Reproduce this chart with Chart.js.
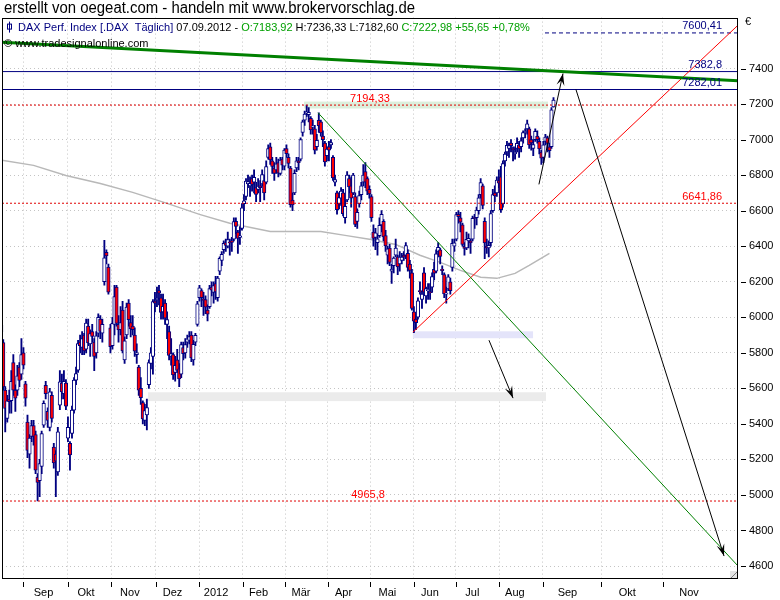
<!DOCTYPE html>
<html>
<head>
<meta charset="utf-8">
<script src="https://cdn.jsdelivr.net/npm/chart.js@4.4.0/dist/chart.umd.min.js"></script>
<style>
html, body { margin: 0; padding: 0; background: #fff; }
#wrap { width: 780px; height: 600px; }
</style>
</head>
<body>
<div id="wrap"><canvas id="c" width="780" height="600"></canvas></div>
<script>
// --- DAX daily bars, 17.08.2011 .. 07.09.2012 (index = trading day) ---
const opens = [
  5918,5858,5590,5430,5540,5530,5745,5590,5590,5720,5680,
  5800,5625,5410,5230,5330,5390,5340,5100,5080,5160,5393,5617,5470,5380,5560,5270,5230,5130,5505,5630,5570,5630,
  5320,5290,5346,5477,5646,5702,5860,5830,5900,5820,5950,5850,5920,5860,5800,5910,5990,5910,6200,6365,6283,
  5940,5840,5960,6170,5960,5930,6040,5760,5900,6080,5970,5950,5900,5790,5720,5600,5520,5420,5450,5620,5740,5780,
  6090,6100,6150,6110,6030,6080,5960,5920,5780,5790,5690,5760,5710,5680,5830,5800,5860,5870,5900,5760,5860,
  5960,6110,6150,6100,6100,6040,6060,6170,6140,6190,6110,6260,6320,6380,6420,6400,6420,6430,6440,6540,6480,6450,
  6500,6640,6680,6750,6740,6780,6760,6730,6720,6740,6750,6770,6760,6900,6960,6880,6840,6830,6870,6810,6890,
  6850,6950,6900,6840,6660,6700,6840,6880,6890,7040,7110,7150,7140,7120,7070,7060,6960,7108,7100,7020,6980,6910,
  6960,6970,6900,6760,6700,6640,6670,6700,6560,6660,6780,6740,6700,6680,6540,6640,6690,6760,6820,
  6780,6720,6680,6480,6450,6420,6460,6520,6540,6460,6350,6390,6260,6290,6350,6340,6300,6320,6350,6350,6360,6300,
  6250,6030,5990,6000,6150,6100,6250,6120,6150,6140,6170,6270,6260,6370,6380,6270,6240,6130,6160,6200,6280,
  6400,6440,6580,6560,6520,6400,6390,6430,6430,6440,6560,6560,6600,6690,6740,6540,6400,6390,6420,6600,6700,6700,
  6770,6790,6640,6880,6930,6950,6980,6950,6920,6950,6970,6960,7010,7040,7060,7060,7000,6950,7000,7020,6990,6930,6900,
  6990,7010,6960,6960,7184
];
const highs = [
  6021,5875,5610,5560,5590,5700,5790,5620,5730,5745,5880,
  5830,5640,5450,5340,5420,5420,5360,5120,5200,5360,5530,5640,5490,5600,5580,5290,5250,5380,5700,5680,5700,5650,
  5440,5300,5500,5660,5720,5870,5900,5920,5910,5990,5990,5930,5960,5880,5920,6020,6010,5990,6433,6380,6300,
  5960,6000,6180,6180,6010,6060,6090,5890,6080,6100,6010,6010,5940,5850,5730,5660,5530,5510,5540,5760,5830,6100,
  6140,6170,6180,6130,6130,6100,6030,5950,5880,5800,5780,5820,5740,5860,5860,5880,5900,5920,5920,5870,5910,
  6090,6180,6160,6140,6120,6070,6180,6200,6200,6230,6230,6340,6370,6430,6440,6480,6440,6450,6560,6560,6490,6510,
  6640,6690,6780,6800,6790,6800,6830,6760,6780,6770,6830,6800,6880,6970,6980,6900,6870,6900,6890,6900,6900,
  6950,6970,6920,6850,6700,6830,6900,6900,7010,7110,7160,7194,7180,7130,7110,7080,7030,7150,7110,7050,6990,6960,
  6990,7000,6910,6800,6710,6700,6730,6720,6660,6820,6800,6790,6810,6700,6610,6710,6760,6860,6870,
  6790,6740,6690,6520,6500,6470,6560,6600,6550,6490,6400,6410,6300,6340,6440,6350,6370,6360,6370,6420,6380,6320,
  6270,6060,6000,6110,6200,6140,6280,6170,6190,6190,6250,6310,6380,6420,6390,6290,6250,6170,6240,6220,6440,
  6440,6590,6600,6590,6530,6420,6480,6470,6440,6570,6580,6620,6690,6780,6750,6560,6440,6430,6600,6720,6740,6790,
  6830,6850,6880,6930,6990,6980,7000,6960,6960,7010,6990,7010,7050,7060,7110,7070,7020,7000,7060,7050,7010,6940,6990,
  7030,7020,6980,7180,7236
];
const lows = [
  5870,5590,5355,5410,5460,5460,5560,5470,5560,5610,5650,
  5710,5500,5210,5150,5300,5280,5120,4966,4990,5120,5380,5540,5380,5360,5410,5150,4990,5110,5480,5540,5540,5480,
  5300,5140,5320,5460,5620,5690,5800,5790,5790,5800,5840,5780,5860,5700,5770,5890,5880,5860,6180,6300,6130,
  5800,5820,5900,5950,5860,5900,5800,5740,5880,5950,5890,5900,5780,5740,5560,5510,5400,5390,5366,5600,5710,5680,
  6030,6060,6070,5990,5990,5960,5880,5760,5730,5650,5640,5690,5610,5660,5760,5770,5830,5850,5750,5730,5840,
  5950,6090,6060,6010,6020,5980,6050,6120,6080,6100,6090,6240,6290,6360,6370,6390,6350,6370,6430,6470,6360,6410,
  6490,6600,6660,6730,6680,6710,6700,6650,6700,6650,6740,6660,6750,6890,6860,6810,6770,6810,6790,6800,6830,
  6830,6900,6840,6620,6600,6690,6820,6830,6880,7020,7080,7130,7100,7030,7030,6920,6940,7040,7020,6960,6850,6880,
  6880,6950,6770,6740,6580,6610,6630,6570,6530,6650,6700,6620,6690,6510,6500,6620,6660,6740,6730,
  6690,6670,6540,6400,6380,6350,6450,6480,6430,6370,6300,6290,6190,6250,6340,6240,6260,6300,6320,6330,6260,6220,
  6040,5914,5930,5990,6130,6050,6130,6080,6100,6100,6140,6210,6250,6340,6300,6240,6110,6080,6150,6130,6260,
  6370,6430,6530,6480,6400,6350,6380,6390,6360,6430,6500,6520,6580,6670,6610,6330,6360,6340,6400,6590,6650,6680,
  6730,6590,6620,6850,6910,6900,6930,6880,6890,6930,6900,6930,6980,7010,7030,6950,6940,6910,6990,6980,6920,6860,6870,
  6970,6930,6900,6950,7183
];
const closes = [
  5955,5608,5487,5530,5525,5640,5590,5545,5670,5645,5790,
  5730,5545,5250,5320,5390,5330,5140,5070,5177,5346,5515,5570,5420,5580,5430,5180,5190,5355,5636,5580,5640,5500,
  5380,5225,5477,5646,5683,5852,5840,5880,5810,5967,5856,5908,5892,5780,5896,5999,5920,5960,6334,6346,6141,
  5835,5966,6116,5966,5929,5970,5810,5868,6057,5986,5934,5930,5809,5800,5589,5548,5428,5475,5492,5745,5800,6088,
  6080,6106,6136,6028,6062,5995,5987,5785,5795,5675,5730,5701,5653,5846,5795,5847,5878,5892,5771,5848,5898,
  6075,6166,6111,6095,6057,6017,6162,6152,6179,6143,6220,6332,6354,6416,6404,6437,6419,6422,6539,6511,6444,6458,
  6616,6655,6766,6764,6754,6748,6788,6692,6738,6729,6803,6700,6848,6949,6885,6849,6810,6864,6811,6885,6856,
  6941,6921,6866,6634,6633,6810,6880,6870,7000,7100,7144,7157,7154,7054,7075,6940,6996,7078,7037,6999,6875,6947,
  6940,6983,6784,6775,6606,6674,6710,6583,6625,6801,6733,6671,6801,6523,6590,6685,6740,6801,6761,
  6710,6694,6561,6444,6475,6441,6518,6579,6452,6401,6385,6309,6271,6333,6390,6284,6339,6339,6339,6403,6281,6264,
  6050,5978,5970,6093,6144,6130,6141,6162,6152,6138,6229,6248,6357,6393,6343,6263,6132,6136,6228,6150,6416,
  6419,6578,6566,6535,6410,6387,6438,6444,6419,6557,6556,6604,6672,6758,6630,6419,6390,6405,6584,6690,6683,6772,
  6755,6606,6865,6919,6968,6966,6966,6944,6929,6979,6947,6993,7040,7042,7089,6970,6981,6972,7047,7000,6947,6895,6970,
  7014,6978,6938,7167,7223
];

// moving average (grey), read at a few bar positions
const maIdx = [0, 16, 32, 49, 65, 82, 98, 113, 133, 148, 158, 170, 182, 195, 207, 217, 227, 237, 245, 254, 261, 271];
const maVal = [6885, 6855, 6798, 6753, 6703, 6641, 6579, 6529, 6483, 6483, 6483, 6461, 6439, 6410, 6349, 6309, 6264, 6225, 6219, 6247, 6292, 6360];

// axes
const xMin = 0.4, xMax = 364.2;
const yMin = 4532.5, yMax = 7686.7;
const yTicks = [4600, 4800, 5000, 5200, 5400, 5600, 5800, 6000, 6200, 6400, 6600, 6800, 7000, 7200, 7400];
const monthTicks = [11, 32.8, 54.3, 76.5, 97.8, 119.3, 140.3, 161.3, 182.3, 204, 224.8, 246.1, 267.6, 296.5, 326.9];
const monthNames = ['Sep', 'Okt', 'Nov', 'Dez', '2012', 'Feb', 'Mär', 'Apr', 'Mai', 'Jun', 'Jul', 'Aug', 'Sep', 'Okt', 'Nov'];
const monthLabelPos = [20.9, 41.9, 63.6, 84.7, 106.2, 127.2, 148.2, 169.2, 190.9, 211.9, 232.9, 253.9, 279.9, 309.5, 340];

// drawn annotations
const navyLevels = [7382.8, 7282.01];
const navyLabels = ['7382,8', '7282,01'];
const redLevels = [7194.33, 6641.86, 4965.8];
const redLabels = ['7194,33', '6641,86', '4965,8'];
const redLabelPos = [182.3, null, 181.3];
const target7600 = [268.8, 7600.41];
const greenThick = [[0, 7548], [364.2, 7331]];
const greenThin = [[156.6, 7151], [364.2, 4600]];
const redTrend = [[203.5, 5916], [364.2, 7644]];
const arrows = [
  [[265.8, 6748], [277.7, 7372]],
  [[284.1, 7282], [357.3, 4656]],
  [[241.1, 5871], [253.0, 5545]]
];
// bands: [fromIdx, toIdx, low, high]
const bands = [
  [149.7, 270.3, 7175, 7214],
  [72.6, 269.3, 5528, 5578],
  [203.5, 262.9, 5882, 5921]
];
const bandColors = ['#dcefdc', '#ebebeb', '#e4e4fa'];

const NAVY = '#000080';
const FONT = '"Liberation Sans", Arial, sans-serif';

const idx = closes.map((_, i) => i);
const wickData = idx.map(i => ({ x: i, y: [lows[i], highs[i]] }));
const bodyData = idx.map(i => ({ x: i, y: [opens[i], closes[i]] }));
const bodyFill = idx.map(i => closes[i] < opens[i] ? '#ff0000' : '#ffffff');

function seg(points) { return points.map(p => ({ x: p[0], y: p[1] })); }
function lineDs(data, color, width, dash, order) {
  return { type: 'line', data, borderColor: color, borderWidth: width, borderDash: dash || [],
           pointRadius: 0, fill: false, tension: 0, order };
}

const datasets = [
  lineDs(maIdx.map((v, i) => ({ x: v, y: maVal[i] })), '#b8b8b8', 1.5, null, 10),
  { type: 'bar', data: wickData, backgroundColor: NAVY, borderWidth: 0, barThickness: 1.2, grouped: false, order: 9 },
  { type: 'bar', data: bodyData, backgroundColor: bodyFill, borderColor: NAVY, borderWidth: 1,
    borderSkipped: false, barThickness: 3.5, grouped: false, minBarLength: 1, order: 8 }
];
navyLevels.forEach(v => datasets.push(lineDs(seg([[xMin, v], [xMax, v]]), NAVY, 1, null, 5)));
redLevels.forEach(v => datasets.push(lineDs(seg([[xMin, v], [xMax, v]]), '#e00000', 1, [2, 2], 4)));
datasets.push(lineDs(seg([[target7600[0], target7600[1]], [xMax, target7600[1]]]), NAVY, 1, [4, 3], 4));
datasets.push(lineDs(seg(greenThick), '#008000', 3, null, 3));
datasets.push(lineDs(seg(greenThin), '#008000', 1, null, 3));
datasets.push(lineDs(seg(redTrend), '#ff0000', 1, null, 3));
arrows.forEach(a => datasets.push(lineDs(seg(a), '#000000', 1, null, 2)));

const overlay = {
  id: 'overlay',
  beforeDatasetsDraw(chart) {
    const { ctx, chartArea: a, scales: { x, y } } = chart;
    ctx.save();
    ctx.beginPath(); ctx.rect(a.left, a.top, a.width, a.height); ctx.clip();
    bands.forEach((b, i) => {
      const x1 = x.getPixelForValue(b[0]), x2 = x.getPixelForValue(b[1]);
      const y1 = y.getPixelForValue(b[3]), y2 = y.getPixelForValue(b[2]);
      ctx.fillStyle = bandColors[i];
      ctx.fillRect(x1, y1, x2 - x1, y2 - y1);
    });
    ctx.restore();
  },
  afterDatasetsDraw(chart) {
    const { ctx, chartArea: a, scales: { x, y } } = chart;
    ctx.save();
    // arrow heads
    ctx.fillStyle = '#000';
    arrows.forEach(ar => {
      const x0 = x.getPixelForValue(ar[0][0]), y0 = y.getPixelForValue(ar[0][1]);
      const x1 = x.getPixelForValue(ar[1][0]), y1 = y.getPixelForValue(ar[1][1]);
      const ang = Math.atan2(y1 - y0, x1 - x0), len = 12, half = 4;
      const bx = x1 - len * Math.cos(ang), by = y1 - len * Math.sin(ang);
      ctx.beginPath();
      ctx.moveTo(x1, y1);
      ctx.lineTo(bx + half * Math.sin(ang), by - half * Math.cos(ang));
      ctx.lineTo(x1 - 0.6 * len * Math.cos(ang), y1 - 0.6 * len * Math.sin(ang));
      ctx.lineTo(bx - half * Math.sin(ang), by + half * Math.cos(ang));
      ctx.closePath();
      ctx.fill();
    });
    // level labels
    ctx.font = '11px ' + FONT;
    ctx.textBaseline = 'bottom';
    const rightX = a.right - 16;
    ctx.fillStyle = NAVY;
    ctx.textAlign = 'right';
    ctx.fillText('7600,41', rightX, y.getPixelForValue(target7600[1]) - 1);
    navyLevels.forEach((v, i) => ctx.fillText(navyLabels[i], rightX, y.getPixelForValue(v) - 1));
    ctx.fillStyle = '#ff0000';
    redLevels.forEach((v, i) => {
      if (redLabelPos[i] === null) {
        ctx.textAlign = 'right';
        ctx.fillText(redLabels[i], rightX, y.getPixelForValue(v) - 1);
      } else {
        ctx.textAlign = 'center';
        ctx.fillText(redLabels[i], x.getPixelForValue(redLabelPos[i]), y.getPixelForValue(v) - 1);
      }
    });
    ctx.restore();
  },
  afterDraw(chart) {
    const { ctx, chartArea: a, scales: { x, y } } = chart;
    ctx.save();
    // frame
    ctx.strokeStyle = '#000';
    ctx.lineWidth = 1;
    ctx.strokeRect(Math.round(a.left) + 0.5, Math.round(a.top) + 0.5, Math.round(a.width) - 1, Math.round(a.height));
    // resize grip
    ctx.fillStyle = '#e4e4e4';
    ctx.fillRect(a.right - 8, a.bottom - 7, 7, 7);
    ctx.strokeStyle = '#808080';
    ctx.beginPath(); ctx.moveTo(a.right - 7, a.bottom); ctx.lineTo(a.right - 1, a.bottom - 6); ctx.stroke();
    // y tick marks
    ctx.strokeStyle = '#000';
    yTicks.forEach(v => {
      const py = Math.round(y.getPixelForValue(v)) + 0.5;
      ctx.beginPath(); ctx.moveTo(a.right + 3, py); ctx.lineTo(a.right + 8, py); ctx.stroke();
    });
    // x tick marks and month labels
    monthTicks.forEach(v => {
      const px = Math.round(x.getPixelForValue(v)) + 0.5;
      ctx.beginPath(); ctx.moveTo(px, a.bottom + 4); ctx.lineTo(px, a.bottom + 9); ctx.stroke();
    });
    ctx.fillStyle = '#000';
    ctx.font = '11px ' + FONT;
    ctx.textAlign = 'center';
    ctx.textBaseline = 'middle';
    monthNames.forEach((m, i) => ctx.fillText(m, x.getPixelForValue(monthLabelPos[i]), a.bottom + 15));
    // euro sign
    ctx.textAlign = 'left';
    ctx.fillText('€', a.right + 7, a.top + 4);
    // title above the frame
    ctx.textBaseline = 'alphabetic';
    ctx.font = '16px ' + FONT;
    ctx.fillText('erstellt von oegeat.com - handeln mit www.brokervorschlag.de', 4, 13, 411);
    // header line inside the frame
    const icx = 9.5;
    ctx.strokeStyle = NAVY;
    ctx.beginPath(); ctx.moveTo(icx, a.top + 4); ctx.lineTo(icx, a.top + 15); ctx.stroke();
    ctx.strokeRect(icx - 2, a.top + 6.5, 4, 5);
    const parts = [
      ['DAX Perf. Index [.DAX  Täglich] ', NAVY],
      ['07.09.2012 - ', '#000000'],
      ['O:7183,92', '#00a000'],
      [' H:7236,33 L:7182,60 ', '#000000'],
      ['C:7222,98 +55,65 +0,78%', '#00a000']
    ];
    ctx.font = '11px ' + FONT;
    let tx = 18;
    parts.forEach(p => {
      ctx.fillStyle = p[1];
      ctx.fillText(p[0], tx, a.top + 13);
      tx += ctx.measureText(p[0]).width;
    });
    ctx.fillStyle = '#000';
    ctx.fillText('© www.tradesignalonline.com', 4, a.top + 29);
    ctx.restore();
  }
};

new Chart(document.getElementById('c').getContext('2d'), {
  type: 'bar',
  data: { datasets },
  options: {
    responsive: false,
    animation: false,
    devicePixelRatio: 1,
    events: [],
    layout: { padding: { top: 17, left: 2, right: 0, bottom: 0 } },
    plugins: { legend: { display: false }, tooltip: { enabled: false } },
    scales: {
      x: {
        type: 'linear', min: xMin, max: xMax, offset: false, position: 'bottom',
        afterBuildTicks: s => { s.ticks = monthTicks.map(v => ({ value: v })); },
        afterFit: s => { s.height = 22; },
        ticks: { display: false },
        grid: { color: '#c4c4c4', drawTicks: false, offset: false },
        border: { display: false, dash: [1, 3] }
      },
      y: {
        type: 'linear', position: 'right', min: yMin, max: yMax,
        afterBuildTicks: s => { s.ticks = yTicks.map(v => ({ value: v })); },
        afterFit: s => { s.width = 42; },
        ticks: { color: '#000', font: { family: FONT, size: 11 }, padding: 11, autoSkip: false,
                 callback: v => String(v) },
        grid: { color: '#c4c4c4', drawTicks: false },
        border: { display: false, dash: [1, 3] }
      }
    }
  },
  plugins: [overlay]
});
</script>
</body>
</html>
